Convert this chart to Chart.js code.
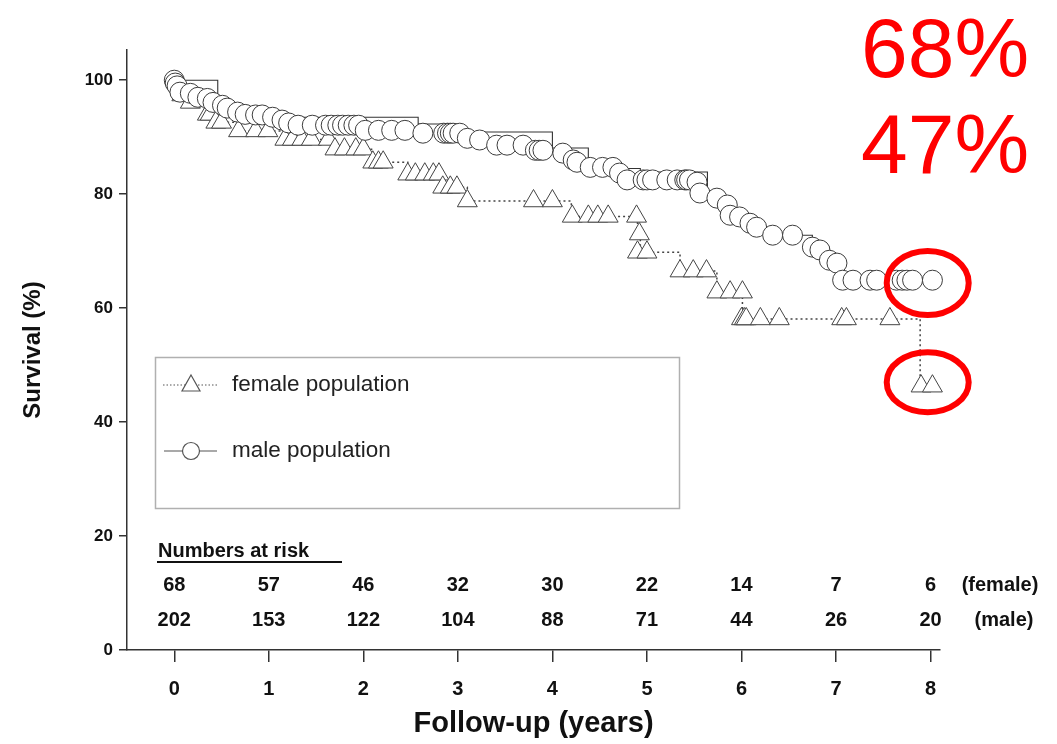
<!DOCTYPE html>
<html><head><meta charset="utf-8">
<script src="https://cdn.jsdelivr.net/npm/chart.js@4.4.1/dist/chart.umd.min.js"></script>
<style>html,body{margin:0;padding:0;background:#fff;}#wrap{width:1057px;height:744px;position:relative;}</style>
</head><body><div id="wrap"><canvas id="c"></canvas></div>
<script>
// ---------- data ----------
const xTicks = [0,1,2,3,4,5,6,7,8];
const yTicks = [0,20,40,60,80,100];
const femaleAtRisk = [68,57,46,32,30,22,14,7,6];
const maleAtRisk = [202,153,122,104,88,71,44,26,20];

// Kaplan-Meier step curves
const maleCurveT = [0,0.46,0.56,0.75,1.04,1.65,2.58,2.97,4.00,4.38,4.60,4.93,5.64,5.85,5.88,6.09,6.16,6.33,6.75,6.93,7.07,8.02];
const maleCurveS = [100,96.0,95.1,94.0,93.5,93.5,92.3,90.9,88.1,86.0,84.5,83.9,79.3,78.1,76.3,74.9,74.2,72.8,70.7,68.4,64.9,64.9];
const femaleCurveT = [0,0.08,0.17,0.35,0.44,0.68,1.17,1.70,2.10,2.47,2.84,3.10,4.20,4.90,4.93,5.35,5.74,6.01,7.89,8.02];
const femaleCurveS = [100,97.4,96.1,94.0,92.6,91.1,89.6,87.9,85.6,83.5,81.2,78.8,76.1,73.0,69.8,66.5,62.8,58.1,46.3,46.3];

// censored markers
const maleCensT = [0.00,0.01,0.03,0.06,0.17,0.25,0.35,0.41,0.51,0.56,0.67,0.75,0.86,0.93,1.04,1.14,1.21,1.31,1.46,1.60,1.66,1.73,1.78,1.84,1.90,1.95,2.02,2.16,2.30,2.44,2.63,2.85,2.89,2.92,2.95,3.02,3.10,3.23,3.41,3.52,3.69,3.82,3.86,3.90,4.11,4.22,4.26,4.40,4.53,4.64,4.71,4.79,4.96,5.00,5.06,5.21,5.32,5.40,5.42,5.45,5.53,5.56,5.74,5.85,5.88,5.98,6.09,6.16,6.33,6.54,6.75,6.83,6.93,7.01,7.07,7.18,7.36,7.43,7.64,7.70,7.75,7.81,8.02];
const maleCensS = [100,99.5,99.0,97.9,97.7,97.0,96.8,96.1,95.6,95.1,94.4,94.0,93.9,93.9,93.5,93.0,92.5,92.1,92.1,92.1,92.1,92.1,92.1,92.1,92.1,92.1,91.2,91.2,91.2,91.2,90.7,90.7,90.7,90.7,90.7,90.7,89.8,89.5,88.6,88.6,88.6,87.7,87.7,87.7,87.2,86.0,85.6,84.7,84.7,84.7,83.7,82.5,82.5,82.5,82.5,82.5,82.5,82.5,82.5,82.5,82.1,80.2,79.3,78.1,76.3,76.0,74.9,74.2,72.8,72.8,70.7,70.2,68.4,67.9,64.9,64.9,64.9,64.9,64.9,64.9,64.9,64.9,64.9];
const femaleCensT = [0.08,0.17,0.35,0.38,0.44,0.50,0.68,0.86,0.99,1.17,1.25,1.35,1.45,1.63,1.70,1.80,1.92,2.00,2.10,2.16,2.21,2.47,2.55,2.65,2.74,2.80,2.84,2.92,2.99,3.10,3.80,4.00,4.21,4.38,4.48,4.59,4.89,4.92,4.90,5.00,5.35,5.49,5.63,5.74,5.88,6.01,6.00,6.03,6.05,6.20,6.40,7.06,7.11,7.57,7.90,8.02];
const femaleCensS = [97.4,96.1,94.0,94.0,92.6,92.6,91.1,91.1,91.1,89.6,89.6,89.6,89.6,89.6,87.9,87.9,87.9,87.9,85.6,85.6,85.6,83.5,83.5,83.5,83.5,83.5,81.2,81.2,81.2,78.8,78.8,78.8,76.1,76.1,76.1,76.1,76.1,73.0,69.8,69.8,66.5,66.5,66.5,62.8,62.8,62.8,58.1,58.1,58.1,58.1,58.1,58.1,58.1,58.1,46.3,46.3];

const seriesNames = ['female population','male population'];
const annotations = ['68%','47%'];

// ---------- helpers ----------
const SANS = '"Liberation Sans", Arial, sans-serif';
const NARROW = '"Liberation Sans Narrow", "Arial Narrow", "Liberation Sans", Arial, sans-serif';
const pts = (T,S) => T.map((t,i)=>({x:t,y:S[i]}));

const decor = {
  id:'decor',
  afterDraw(chart){
    const ctx = chart.ctx, xs = chart.scales.x, ys = chart.scales.y;
    ctx.save();
    // legend box
    ctx.strokeStyle = '#b0b0b0'; ctx.lineWidth = 1.5;
    ctx.strokeRect(155.5, 357.5, 524, 151);
    // female legend symbol
    ctx.strokeStyle = '#555'; ctx.lineWidth = 1.2; ctx.setLineDash([1.5,2]);
    ctx.beginPath(); ctx.moveTo(163,385); ctx.lineTo(219,385); ctx.stroke();
    ctx.setLineDash([]);
    ctx.fillStyle = '#fff'; ctx.strokeStyle = '#555'; ctx.lineWidth = 1.2;
    ctx.beginPath(); ctx.moveTo(191,375); ctx.lineTo(200,391); ctx.lineTo(182,391); ctx.closePath(); ctx.fill(); ctx.stroke();
    // male legend symbol
    ctx.beginPath(); ctx.moveTo(164,451); ctx.lineTo(217,451); ctx.stroke();
    ctx.beginPath(); ctx.arc(191,451,8.5,0,Math.PI*2); ctx.fill(); ctx.stroke();
    ctx.fillStyle = '#222'; ctx.font = '22.5px '+SANS; ctx.textAlign='left'; ctx.textBaseline='middle';
    ctx.fillText(seriesNames[0], 232, 385);
    ctx.fillText(seriesNames[1], 232, 451);

    // numbers at risk
    ctx.fillStyle = '#111';
    ctx.font = 'bold 20px '+NARROW;
    ctx.textAlign='left';
    ctx.fillText('Numbers at risk', 158, 551);
    ctx.strokeStyle='#111'; ctx.lineWidth=2;
    ctx.beginPath(); ctx.moveTo(157,562); ctx.lineTo(342,562); ctx.stroke();
    ctx.textAlign='center';
    const yF = 585, yM = 620;
    xTicks.forEach((v,i)=>{
      const px = xs.getPixelForValue(v);
      ctx.fillText(String(femaleAtRisk[i]), px, yF);
      ctx.fillText(String(maleAtRisk[i]), px, yM);
    });
    ctx.fillText('(female)', 1000, yF);
    ctx.fillText('(male)', 1004, yM);

    // red annotations
    ctx.fillStyle = '#ff0000';
    ctx.font = '84px '+SANS; ctx.textAlign='left'; ctx.textBaseline='alphabetic';
    ctx.fillText(annotations[0], 861, 77);
    ctx.fillText(annotations[1], 861, 173);
    ctx.strokeStyle = '#ff0000'; ctx.lineWidth = 6;
    ctx.beginPath(); ctx.ellipse(xs.getPixelForValue(7.97), ys.getPixelForValue(64.4), 41, 32, 0, 0, Math.PI*2); ctx.stroke();
    ctx.beginPath(); ctx.ellipse(xs.getPixelForValue(7.97), ys.getPixelForValue(47), 41, 30, 0, 0, Math.PI*2); ctx.stroke();
    ctx.restore();
  }
};

new Chart(document.getElementById('c'), {
  type:'scatter',
  data:{datasets:[
    {label:'male markers', data:pts(maleCensT,maleCensS), showLine:false, pointStyle:'circle', pointRadius:10,
     pointBackgroundColor:'#fff', pointBorderColor:'#3c3c3c', pointBorderWidth:1, order:1, clip:false},
    {label:'female markers', data:pts(femaleCensT,femaleCensS), showLine:false, pointStyle:'triangle', pointRadius:11.5,
     pointBackgroundColor:'#fff', pointBorderColor:'#444', pointBorderWidth:1, order:2, clip:false},
    {label:'female', data:pts(femaleCurveT,femaleCurveS), showLine:true, stepped:'before', borderColor:'#444',
     borderWidth:1.5, borderDash:[2,3], pointRadius:0, fill:false, order:3},
    {label:'male', data:pts(maleCurveT,maleCurveS), showLine:true, stepped:'before', borderColor:'#333',
     borderWidth:1.1, pointRadius:0, fill:false, order:4}
  ]},
  options:{
    responsive:true, maintainAspectRatio:false, animation:false, devicePixelRatio:1,
    layout:{padding:{top:50,right:117,left:0,bottom:0}},
    plugins:{legend:{display:false}, tooltip:{enabled:false}},
    scales:{
      x:{type:'linear', min:-0.5, max:8.1,
        afterBuildTicks:s=>{s.ticks = xTicks.map(v=>({value:v}));},
        afterFit:s=>{s.height = 94;},
        grid:{drawOnChartArea:false, drawTicks:true, tickLength:12, color:'#333', lineWidth:1.5},
        border:{display:true, color:'#333', width:1.5},
        ticks:{color:'#111', font:{family:NARROW, size:20, weight:'bold'}, padding:15, maxRotation:0, autoSkip:false},
        title:{display:true, text:'Follow-up (years)', color:'#111', font:{family:SANS, size:29, weight:'bold'}, padding:{top:0,bottom:3}}
      },
      y:{type:'linear', min:0, max:105.3,
        afterBuildTicks:s=>{s.ticks = yTicks.map(v=>({value:v}));},
        afterFit:s=>{s.width = 127;},
        grid:{drawOnChartArea:false, drawTicks:true, tickLength:8, color:'#333', lineWidth:1.5},
        border:{display:true, color:'#333', width:1.5},
        ticks:{color:'#111', font:{family:SANS, size:17, weight:'bold'}, padding:6},
        title:{display:true, text:'Survival (%)', color:'#111', font:{family:SANS, size:24, weight:'bold'}, padding:{top:19,bottom:0}}
      }
    }
  },
  plugins:[decor]
});
</script></body></html>
